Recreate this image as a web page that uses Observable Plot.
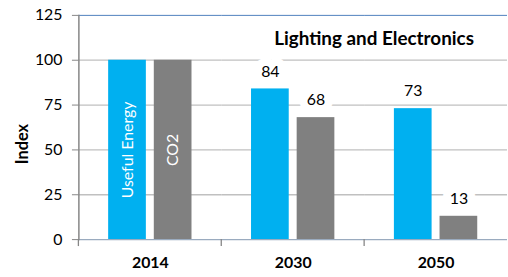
<!DOCTYPE html>
<html><head><meta charset="utf-8">
<script src="https://cdn.jsdelivr.net/npm/d3@7"></script>
<script src="https://cdn.jsdelivr.net/npm/@observablehq/plot@0.6"></script>
<style>
html,body{margin:0;padding:0;overflow:hidden;background:#fff}
</style>
</head><body><div id="chart"></div>
<script>
const years = ["2014", "2030", "2050"];
const series = ["Useful Energy", "CO2"];
const usefulEnergy = [100, 84, 73];
const co2 = [100, 68, 13];
const yTicks = [0, 25, 50, 75, 100, 125];
const gridTicks = [25, 50, 75, 100];
const title = "Lighting and Electronics";
const yLabel = "Index";
const colors = ["#00b0f0", "#808080"];

const data = years.flatMap((yr, i) => [
  {year: yr, series: series[0], value: usefulEnergy[i]},
  {year: yr, series: series[1], value: co2[i]}
]);

// tick at the left edge of each category band (drawn once per facet)
function boundaryTick(index, scales, values, dimensions) {
  const x0 = dimensions.marginLeft;
  const y0 = scales.y(0);
  const g = d3.create("svg:g");
  g.append("line").attr("x1", x0).attr("x2", x0).attr("y1", y0).attr("y2", y0 + 7)
    .attr("stroke", "#868686").attr("stroke-width", 1.3);
  return g.node();
}

const font = "Lato, 'Open Sans', sans-serif";

const chart = Plot.plot({
  width: 512, height: 277,
  marginLeft: 78, marginRight: 0.5, marginTop: 15, marginBottom: 36,
  style: {fontFamily: font, fontSize: "16px", color: "#000", background: "#fff"},
  fx: {domain: years, padding: 0},
  x: {domain: series, paddingInner: 0.17, paddingOuter: 0.62, axis: null},
  y: {domain: [0, 125]},
  color: {domain: series, range: colors},
  marks: [
    Plot.ruleY(gridTicks, {stroke: "#c0c0c0", strokeWidth: 1.3}),
    Plot.ruleY([125], {stroke: "#4f81bd", strokeWidth: 1}),
    Plot.barY(data, {fx: "year", x: "series", y: "value", fill: "series"}),
    Plot.ruleY([0], {stroke: "#9aabbf", strokeWidth: 1.3}),
    Plot.frame({anchor: "left", fx: [years[0]], stroke: "#868686", strokeWidth: 1.5}),
    boundaryTick,
    Plot.axisY(yTicks, {tickSize: 6.5, tickPadding: 10, stroke: "#868686", fill: "#000", fontSize: 16, label: null}),
    Plot.axisFx({anchor: "bottom", tickSize: 0, tickPadding: 17, fontWeight: "bold", fontSize: 16, fill: "#000", label: null}),
    Plot.text(data.filter(d => d.year !== years[0]), {
      fx: "year", x: "series", y: "value", text: d => String(d.value), dy: -17.5,
      fill: "#000", stroke: "white", strokeWidth: 16, paintOrder: "stroke", fontSize: 16
    }),
    Plot.text(data.filter(d => d.year === years[0]), {
      fx: "year", x: "series", y: d => d.value / 2, text: "series", rotate: -90,
      fill: "white", fontSize: 16
    }),
    Plot.text([{year: years[2], text: title}], {
      fx: "year", text: "text", frameAnchor: "top-left", dx: 9.5, dy: 24,
      textAnchor: "middle", lineAnchor: "middle", fontWeight: "bold", fontSize: 19, fill: "#000"
    }),
    Plot.text([{year: years[0], text: yLabel}], {
      fx: "year", text: "text", frameAnchor: "left", dx: -56.4, dy: 16.7, rotate: -90,
      textAnchor: "middle", lineAnchor: "middle", fontWeight: "bold", fontSize: 16.5, fill: "#000"
    })
  ]
});
document.getElementById("chart").appendChild(chart);
</script>
</body></html>
